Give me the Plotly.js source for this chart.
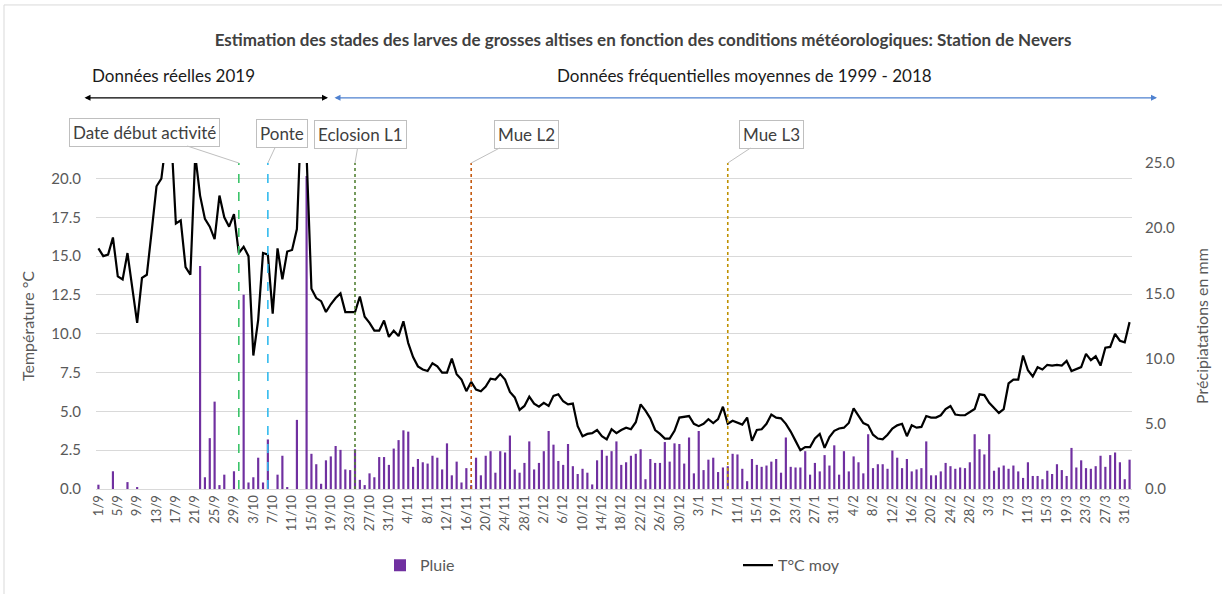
<!DOCTYPE html>
<html>
<head>
<meta charset="utf-8">
<script src="https://cdn.plot.ly/plotly-3.0.1.min.js"></script>
<style>html,body{margin:0;padding:0;background:#fff;}#chart{width:1222px;height:594px;}</style>
</head>
<body>
<div id="chart"></div>
<script>
// Calendar of the season (day/month), 1/9 -> 1/4 (2020 leap year)
const monthLengths = [[9,30],[10,31],[11,30],[12,31],[1,31],[2,29],[3,31],[4,1]];
const categories = [];
monthLengths.forEach(([m,n]) => { for (let d = 1; d <= n; d++) categories.push(d + '/' + m); });

// Tick labels shown (every 4th day)
const tickLabels = categories.filter((c, i) => i % 4 === 0 && i <= 212);

// Daily mean temperature (°C)
const tempMoy = [
  15.5,15.0,15.1,16.2,13.7,13.5,15.2,12.9,10.7,13.6,
  13.8,16.6,19.5,20.0,22.5,23.0,17.1,17.3,14.3,13.8,
  21.5,18.9,17.4,16.9,16.1,18.9,17.5,16.9,17.7,15.2,
  15.6,15.0,8.6,10.9,15.2,15.1,11.3,15.5,13.5,15.3,
  15.4,16.75,25,21.5,12.9,12.3,12.1,11.4,11.9,12.3,
  12.6,11.4,11.4,11.4,12.4,
  11.1,10.7,10.2,10.2,10.85, 9.8,10.2,9.85,10.8,9.4,
  8.5,7.9,7.7,7.6,8.1, 7.9,7.5,7.5,8.4,7.4,
  7.05,6.3,6.9,6.4,6.3, 6.6,7.1,7.05,7.4,7.05,
  6.25,5.9,5.1,5.35,5.95, 5.5,5.3,5.55,5.35,6.0,
  6.1,5.65,5.45,5.5,4.05, 3.4,3.55,3.6,3.8,3.4,
  3.2,3.85,3.6,3.8,3.95, 3.85,
  4.3,5.45,5.05,4.55,3.8, 3.55,3.25,3.25,3.75,4.6,
  4.65,4.7,4.2,4.05,4.2, 4.5,4.25,4.5,5.3,4.2,
  4.4,4.25,4.15,4.6,3.1, 3.8,3.85,4.2,4.8,4.6,
  4.55,4.2,3.7,3.1,2.5, 2.7,2.7,3.25,3.55,2.65,
  3.35,3.75,3.9,3.95,4.25, 5.2,4.7,4.25,4.1,3.5,
  3.25,3.2,3.5,3.9,4.1,
  4.2,3.4,4.1,3.95,4.0, 4.7,4.6,4.6,4.75,5.15,
  5.35,4.8,4.75,4.75,4.95, 5.15,6.1,6.05,5.55,5.2,
  4.9,5.15,6.8,7.05,7.05, 8.6,7.65,7.25,7.85,7.7,
  8.0,7.95,8.0,7.95,8.25, 7.6,7.7,7.85,8.7,8.3,
  8.55,7.95,9.1,9.15,10.0, 9.55,9.45,10.75
];

// Daily rainfall (mm)
const pluie = [
  0.33,0,0,1.36,0,0,0.53,0,0.15,0,
  0,0,0,0,0,0,0,0,0,0,
  0,17.1,0.9,3.9,6.7,0.3,1.1,0,1.36,0,
  14.9,0.5,0.9,2.4,0.5,3.8,0,1.1,2.55,0.15,
  0,5.3,0,24.0,2.7,1.9,0.4,2.2,2.5,3.3,
  3.0,1.5,1.45,3.05,0.7,
  0.3,1.2,0.9,2.45,2.45, 1.85,3.1,3.75,4.5,4.4,
  1.7,2.3,2.05,1.95,2.55, 2.4,1.5,3.5,1.05,2.1,
  0.5,1.6,0.3,2.4,1.05, 2.55,2.9,1.25,2.9,2.8,
  4.1,1.5,1.25,2.0,3.65, 1.5,2.0,2.9,4.45,3.4,
  2.15,1.85,3.45,1.75,1.15, 1.55,1.25,0.35,2.2,3.0,
  2.55,2.9,3.65,1.85,2.05, 2.55,
  2.7,3.05,0.75,2.3,2.0, 2.0,3.6,2.1,3.5,3.45,
  1.95,3.95,1.2,4.45,1.45, 2.25,2.4,1.3,1.65,1.75,
  2.7,2.65,1.55,0.6,2.3, 1.85,1.7,1.8,2.1,2.3,
  1.25,3.95,1.7,1.65,1.65, 2.9,1.1,2.0,1.35,2.6,
  1.8,3.35,1.1,2.9,1.35, 2.5,2.05,1.2,4.2,1.6,
  1.9,1.9,1.55,2.95,2.4,
  1.6,2.3,1.35,1.5,1.6, 3.65,1.05,1.05,1.35,2.0,
  1.75,1.55,1.65,1.6,2.05, 4.2,3.05,2.65,4.2,1.4,
  1.65,1.8,1.55,1.8,1.35, 0.85,2.05,1.0,1.0,0.75,
  1.4,1.15,1.9,1.45,1.0, 3.15,1.65,2.2,1.6,1.55,
  1.75,2.55,1.7,2.6,2.8, 2.05,0.75,2.25
];

// Stage events
const eventLabels = ['Date début activité','Ponte','Eclosion L1','Mue L2','Mue L3'];
const eventDates  = ['30/9','6/10','24/10','17/11','9/1'];
const eventColors = ['#3cc46a','#33bbee','#548235','#c55a11','#bf9000'];
const eventDash   = ['dash','dash','dot','dot','dot'];
const calloutOffsets = [[-94,-31],[14,-30],[5,-29],[55,-29],[44,-29]];

const FONT = 'Lato, "Open Sans", sans-serif';
const GREY = '#595959';

// pixel -> paper helpers (plot area 96..1132 x, 163..493 y)
const PL = 96, PW = 1036, PT = 163, PH = 330;
const px = v => (v - PL) / PW;
const py = v => (PT + PH - v) / PH;

const traces = [
  {
    type: 'bar', name: 'Pluie', x: categories, y: pluie, yaxis: 'y',
    width: 0.45, marker: {color: '#7030a0', line: {width: 0}},
    hoverinfo: 'x+y'
  },
  {
    type: 'scatter', mode: 'lines', name: 'T°C moy', x: categories, y: tempMoy, yaxis: 'y2',
    line: {color: '#000000', width: 2.2}, hoverinfo: 'x+y'
  }
];

const shapes = eventDates.map((d, i) => ({
  type: 'line', xref: 'x', yref: 'paper',
  x0: categories.indexOf(d), x1: categories.indexOf(d), y0: 0, y1: 1,
  line: {color: eventColors[i], width: 1.6, dash: eventDash[i]}
}));
// chart frame
shapes.push({type: 'rect', xref: 'paper', yref: 'paper', x0: px(4), x1: px(1300), y0: py(640), y1: py(3),
  line: {color: '#d9d9d9', width: 1}, fillcolor: 'rgba(0,0,0,0)', layer: 'below'});

const annotations = eventDates.map((d, i) => ({
  xref: 'x', yref: 'paper', x: categories.indexOf(d), y: 1,
  text: eventLabels[i], showarrow: true, arrowhead: 0, arrowwidth: 1, arrowcolor: '#bfbfbf',
  ax: calloutOffsets[i][0], ay: calloutOffsets[i][1], standoff: 0,
  bgcolor: '#ffffff', bordercolor: '#bfbfbf', borderwidth: 1, borderpad: 3,
  font: {family: FONT, size: 17, color: '#404040'}
}));

annotations.push(
  {xref: 'paper', yref: 'paper', x: px(173), y: py(74), xanchor: 'center', yanchor: 'middle',
   text: 'Données réelles 2019', showarrow: false,
   font: {family: FONT, size: 17, color: '#1a1a1a'}},
  {xref: 'paper', yref: 'paper', x: px(744), y: py(74), xanchor: 'center', yanchor: 'middle',
   text: 'Données fréquentielles moyennes de 1999 - 2018', showarrow: false,
   font: {family: FONT, size: 17, color: '#1a1a1a'}},
  {xref: 'paper', yref: 'paper', x: px(328), y: py(97), ax: -245, ay: 0, text: '', showarrow: true,
   arrowside: 'end+start', arrowhead: 2, arrowsize: 1, arrowwidth: 1.2, arrowcolor: '#000000', standoff: 0, startstandoff: 0},
  {xref: 'paper', yref: 'paper', x: px(1157), y: py(97), ax: -824, ay: 0, text: '', showarrow: true,
   arrowside: 'end+start', arrowhead: 2, arrowsize: 1, arrowwidth: 1.2, arrowcolor: '#4f81d0', standoff: 0, startstandoff: 0}
);

const layout = {
  width: 1222, height: 594,
  margin: {l: PL, r: 1222 - PL - PW, t: PT, b: 594 - PT - PH, pad: 0},
  paper_bgcolor: '#ffffff', plot_bgcolor: '#ffffff',
  font: {family: FONT, color: GREY},
  title: {
    text: '<b>Estimation des stades des larves de grosses altises en fonction des conditions météorologiques: Station de Nevers</b>',
    xref: 'paper', x: px(643), xanchor: 'center', yref: 'container', y: 1 - 40/594, yanchor: 'middle',
    font: {family: FONT, size: 17, color: '#404040'}
  },
  showlegend: true,
  legend: {
    orientation: 'h', x: px(380), xanchor: 'left', y: py(553), yanchor: 'top',
    entrywidth: 313, entrywidthmode: 'pixels',
    font: {family: FONT, size: 16, color: GREY}, traceorder: 'normal'
  },
  bargap: 0.5,
  xaxis: {
    type: 'category', tickmode: 'array', tickvals: tickLabels, ticktext: tickLabels,
    tickangle: -90, tickfont: {family: FONT, size: 13, color: GREY},
    showgrid: false, showline: true, linecolor: '#d9d9d9', ticks: '', zeroline: false,
    range: [-0.5, categories.length - 0.5]
  },
  yaxis: {
    side: 'right', range: [0, 25], dtick: 5, tickformat: '.1f',
    showgrid: false, zeroline: false, ticks: '', ticklabelstandoff: 12,
    tickfont: {family: FONT, size: 15, color: GREY},
    title: {text: 'Précipiatations en mm', font: {family: FONT, size: 16, color: GREY}, standoff: 22}
  },
  yaxis2: {
    overlaying: 'y', side: 'left', range: [0, 21], dtick: 2.5, tickformat: '.1f',
    showgrid: true, gridcolor: '#d9d9d9', gridwidth: 1, zeroline: false, ticks: '', ticklabelstandoff: 14,
    tickfont: {family: FONT, size: 15, color: GREY},
    title: {text: 'Température °C', font: {family: FONT, size: 16, color: GREY}, standoff: 12}
  },
  shapes: shapes,
  annotations: annotations
};

Plotly.newPlot('chart', traces, layout, {displayModeBar: false, staticPlot: true});
</script>
</body>
</html>
